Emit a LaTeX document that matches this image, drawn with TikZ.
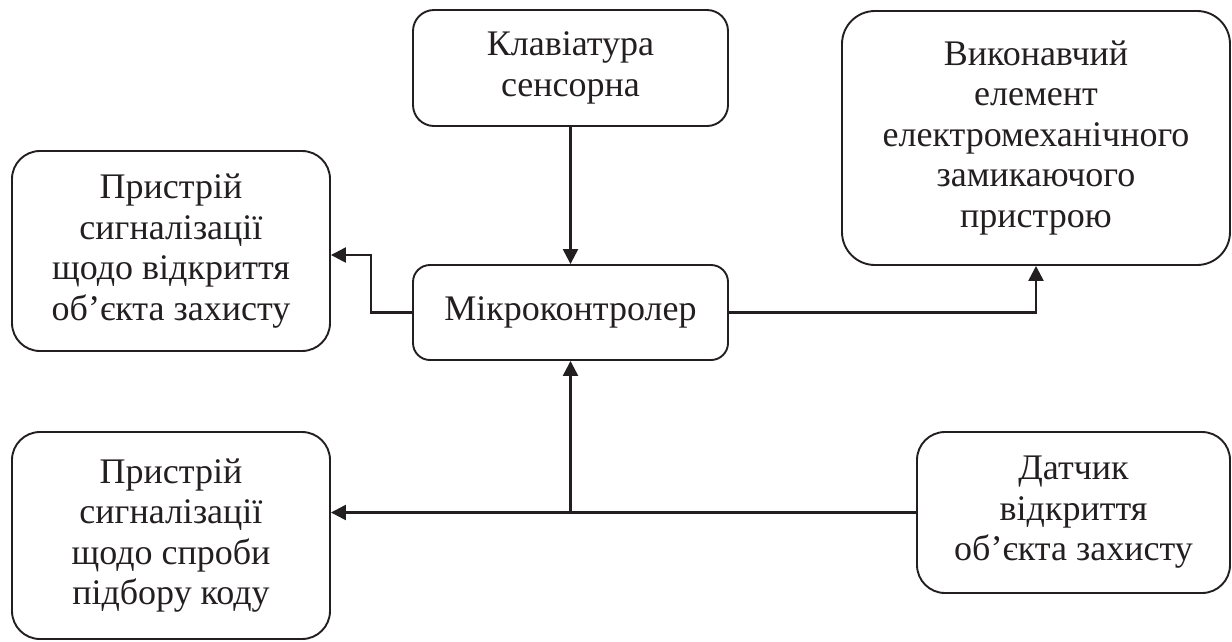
\documentclass[tikz,border=0pt]{standalone}
\usepackage{fontspec}
\setmainfont{Liberation Serif}
\usetikzlibrary{arrows.meta}
\definecolor{ink}{RGB}{35,31,32}
\begin{document}
\begin{tikzpicture}[x=1pt,y=-1pt,
  box/.style={draw=ink, text=ink, line width=1.9pt, align=center, inner sep=0pt,
    font=\fontsize{36}{40.5}\selectfont},
  conn/.style={draw=ink, line width=2.4pt},
  arr/.style={conn, -{Triangle[length=15pt,width=15pt]}}]
\useasboundingbox (0,0) rectangle (1232,641);
\node[box, rounded corners=21pt, minimum width=315pt, minimum height=116pt] (kl) at (570.5,68) {Клавіатура\\сенсорна};
\node[box, rounded corners=17pt, minimum width=315pt, minimum height=95pt] (mk) at (570.5,312.5) {Мікроконтролер};
\node[box, rounded corners=33pt, minimum width=388pt, minimum height=254pt] (vk) at (1036,138) {Виконавчий\\елемент\\електромеханічного\\замикаючого\\пристрою};
\node[box, rounded corners=28pt, minimum width=318pt, minimum height=200pt] (l1) at (171,251) {Пристрій\\сигналізації\\щодо відкриття\\об’єкта захисту};
\node[box, rounded corners=28pt, minimum width=318pt, minimum height=207pt] (l2) at (171,535.5) {Пристрій\\сигналізації\\щодо спроби\\підбору коду};
\node[box, rounded corners=28pt, minimum width=313pt, minimum height=161pt] (dt) at (1073.5,512.5) {Датчик\\відкриття\\об’єкта захисту};
\coordinate (j) at (mk.south |- dt.west);
\coordinate (l1in) at ([yshift=-4pt]l1.east);
\draw[arr] (kl.south) -- (mk.north);
\draw[arr] (mk.west) -- ++(-41,0) |- (l1in);
\draw[arr] (mk.east) -| (vk.south);
\draw[conn] (dt.west) -- (j);
\draw[arr] (j) -- (mk.south);
\draw[arr] (j) -- (j -| l2.east);
\end{tikzpicture}
\end{document}
